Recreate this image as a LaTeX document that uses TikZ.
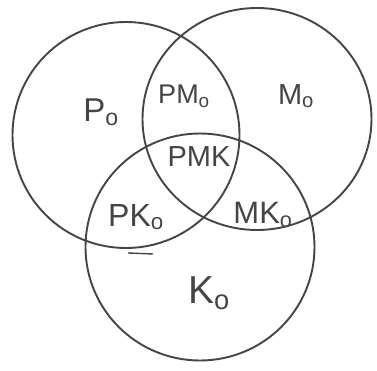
\documentclass[tikz,border=0pt]{standalone}
\usepackage{fontspec}
\setmainfont{Liberation Sans}
\definecolor{ink}{HTML}{454545}
\begin{document}
\begin{tikzpicture}[x=1pt,y=-1pt,
  ring/.style={draw=ink,line width=1.9pt},
  lab/.style={text=ink,inner sep=0pt,anchor=center}]
\useasboundingbox (0,0) rectangle (377,371);
\fill[white] (0,0) rectangle (377,371);
\coordinate (cP) at (126,135);
\coordinate (cM) at (257,119);
\coordinate (cK) at (200,247);
\draw[ring] (cP) ellipse (113.5 and 113);
\draw[ring] (cM) ellipse (114.5 and 111);
\draw[ring] (cK) ellipse (114.5 and 113.5);
\coordinate (s1) at (128,253);
\coordinate (s2) at (153,254);
\draw[draw=ink,line width=1.4pt] (s1) -- (s2);
\node[lab,font=\fontsize{33}{38}\selectfont] (Po) at (101,112) {P\textsubscript{o}};
\node[lab,font=\fontsize{27}{30}\selectfont] (PMo) at (184,96) {PM\textsubscript{o}};
\node[lab,font=\fontsize{29}{32}\selectfont] (Mo) at (296,96) {M\textsubscript{o}};
\node[lab,font=\fontsize{29}{32}\selectfont] (PMK) at (199,157) {PMK};
\node[lab,font=\fontsize{32}{36}\selectfont] (PKo) at (136,217) {PK\textsubscript{o}};
\node[lab,font=\fontsize{31}{34}\selectfont] (MKo) at (263,215) {MK\textsubscript{o}};
\node[lab,font=\fontsize{39}{42}\selectfont] (Ko) at (209,293) {K\textsubscript{o}};
\end{tikzpicture}
\end{document}
